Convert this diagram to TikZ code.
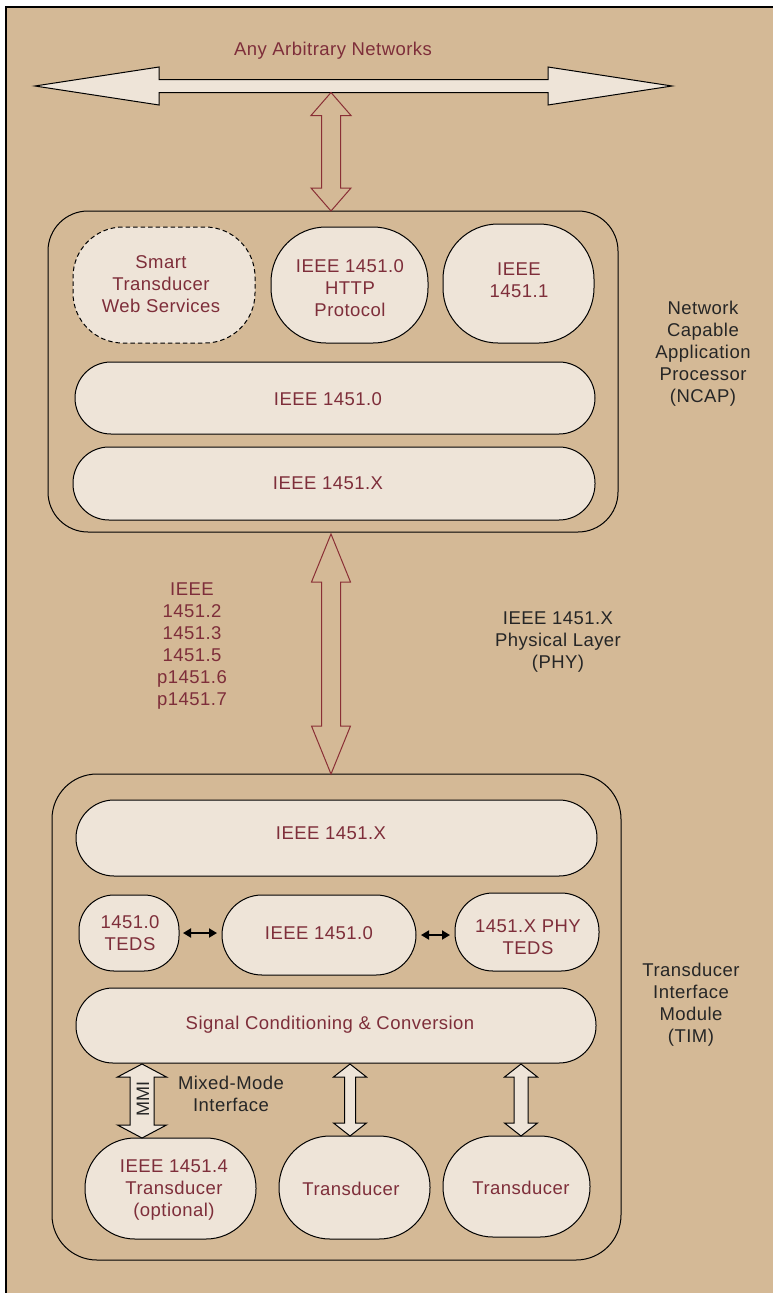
\documentclass[tikz,border=0pt]{standalone}
\usepackage{fontspec}
\setmainfont{Liberation Sans}[LetterSpace=2.5]
\usetikzlibrary{calc,arrows.meta}
\definecolor{bgtan}{HTML}{D4B996}
\definecolor{boxfill}{HTML}{EEE4D8}
\definecolor{txtred}{HTML}{7E2E3A}
\definecolor{arrred}{HTML}{8A2F35}
\newcommand{\vblock}[6]{% style, top tip, bottom tip, shaft half, head half, head length
  \draw[#1] (#2) -- ($(#2)+(#5,#6)$) -- ($(#2)+(#4,#6)$) -- ($(#3)+(#4,-#6)$) -- ($(#3)+(#5,-#6)$) -- (#3)
    -- ($(#3)+(-#5,-#6)$) -- ($(#3)+(-#4,-#6)$) -- ($(#2)+(-#4,#6)$) -- ($(#2)+(-#5,#6)$) -- cycle;}
\begin{document}
\begin{tikzpicture}[x=1pt,y=-1pt,
  box/.style={draw=black, fill=boxfill, line width=1pt, inner sep=0pt, outer sep=0pt},
  outerbox/.style={draw=black, line width=1pt, inner sep=0pt, outer sep=0pt},
  lbl/.style={text=txtred, font=\fontsize{18.5}{22}\selectfont, align=center, inner sep=0pt},
  blk/.style={lbl, text=black!85},
  redarrow/.style={draw=arrred, line width=1pt, fill=bgtan, line join=miter},
  whitearrow/.style={draw=black, line width=1pt, fill=boxfill, line join=miter},
  smallarr/.style={draw=black, line width=1.8pt, {Triangle[length=8pt,width=9pt]}-{Triangle[length=8pt,width=9pt]}}]
\useasboundingbox (0,0) rectangle (773,1293);
\fill[white] (0,0) rectangle (773,1293);
\fill[bgtan] (6,7) rectangle (773,1293);
\draw[line width=1.5pt] (6,1293) -- (6,7) -- (773,7);

% network arrow
\coordinate (netL) at (35,86);
\coordinate (netR) at (672,86);
\draw[whitearrow] (netL) -- ($(netL)+(124,-19)$) -- ($(netL)+(124,-6.5)$) -- ($(netR)+(-124,-6.5)$) -- ($(netR)+(-124,-19)$) -- (netR)
  -- ($(netR)+(-124,19)$) -- ($(netR)+(-124,6.5)$) -- ($(netL)+(124,6.5)$) -- ($(netL)+(124,19)$) -- cycle;
\coordinate (netmid) at (331,92.5);
\node[lbl] (nett) at (333,51) {Any Arbitrary Networks};

% NCAP
\node[outerbox, rounded corners=40pt, minimum width=570pt, minimum height=321pt] (ncap) at (333,371.5) {};
\node[box, dashed, dash pattern=on 4.5pt off 3pt, rounded corners=50pt, minimum width=182pt, minimum height=116pt] (ws) at (164,285) {};
\node[box, rounded corners=55pt, minimum width=157pt, minimum height=116pt] (http) at (349.5,285) {};
\node[box, rounded corners=55pt, minimum width=151pt, minimum height=119pt] (p11) at (518.5,283.5) {};
\node[box, rounded corners=36pt, minimum width=520pt, minimum height=72pt] (n0) at (335,398) {};
\node[box, rounded corners=36pt, minimum width=522pt, minimum height=73pt] (nx) at (334,483.5) {};
\node[lbl] (wst) at (161,284.5) {Smart\\Transducer\\Web Services};
\node[lbl] (httpt) at (350,288) {IEEE 1451.0\\HTTP\\Protocol};
\node[lbl] (p11t) at (519,280.5) {IEEE\\1451.1};
\node[lbl] (n0t) at (328,399.5) {IEEE 1451.0};
\node[lbl] (nxt) at (328,483.5) {IEEE 1451.X};
\node[blk] (ncapt) at (703,354) {Network\\Capable\\Application\\Processor\\(NCAP)};

\vblock{redarrow}{netmid}{netmid |- ncap.north}{9.5}{20}{23}

% PHY
\coordinate (phytop) at (331,534);
\node[lbl] (stds) at (192,646.5) {IEEE\\1451.2\\1451.3\\1451.5\\p1451.6\\p1451.7};
\node[blk] (phyt) at (558,642.5) {IEEE 1451.X\\Physical Layer\\(PHY)};

% TIM
\node[outerbox, rounded corners=45pt, minimum width=569pt, minimum height=486pt] (tim) at (336.5,1017) {};
\vblock{redarrow}{phytop}{phytop |- tim.north}{9.5}{19.5}{48}
\node[box, rounded corners=38pt, minimum width=521pt, minimum height=76pt] (tx) at (336.5,838) {};
\node[box, rounded corners=35pt, minimum width=100pt, minimum height=76pt] (teds0) at (129,933) {};
\node[box, rounded corners=40pt, minimum width=194pt, minimum height=80pt] (t0) at (319,935) {};
\node[box, rounded corners=38pt, minimum width=144pt, minimum height=78pt] (tedsx) at (527,932) {};
\node[box, rounded corners=37pt, minimum width=520pt, minimum height=75pt] (sig) at (336,1025.5) {};
\node[box, rounded corners=50pt, minimum width=171pt, minimum height=101pt] (tr4) at (170.5,1188.5) {};
\node[box, rounded corners=51pt, minimum width=151pt, minimum height=103pt] (tr2) at (354.5,1187.5) {};
\node[box, rounded corners=50pt, minimum width=147pt, minimum height=101pt] (tr3) at (516.5,1186.5) {};

\node[lbl] (txt) at (331,833.5) {IEEE 1451.X};
\node[lbl] (teds0t) at (130,933.5) {1451.0\\TEDS};
\node[lbl] (t0t) at (319,933.5) {IEEE 1451.0};
\node[lbl] (tedsxt) at (528,937.5) {1451.X PHY\\TEDS};
\node[lbl] (sigt) at (330,1024.5) {Signal Conditioning \& Conversion};
\node[lbl] (tr4t) at (174,1190.5) {IEEE 1451.4\\Transducer\\(optional)};
\node[lbl] (tr2t) at (351,1188.5) {Transducer};
\node[lbl] (tr3t) at (521,1187.5) {Transducer};
\node[blk] (timt) at (691,1005) {Transducer\\Interface\\Module\\(TIM)};

\draw[smallarr, shorten <=4pt, shorten >=5pt] (teds0.east) -- (teds0.east -| t0.west);
\draw[smallarr, shorten <=5pt, shorten >=5pt] (t0.east) -- (t0.east -| tedsx.west);

\coordinate (mmitop) at (142,1064);
\coordinate (a2top) at (350,1064);
\coordinate (a3top) at (521,1064);
\vblock{whitearrow}{mmitop}{mmitop |- tr4.north}{12}{24.5}{13}
\vblock{whitearrow}{a2top}{a2top |- tr2.north}{5.5}{16.5}{13}
\vblock{whitearrow}{a3top}{a3top |- tr3.north}{7}{16.5}{13}
\node[blk, rotate=90, font=\fontsize{18}{22}\selectfont] (mmit) at (143,1099) {MMI};
\node[blk] (mixt) at (231,1094) {Mixed-Mode\\Interface};
\end{tikzpicture}
\end{document}
